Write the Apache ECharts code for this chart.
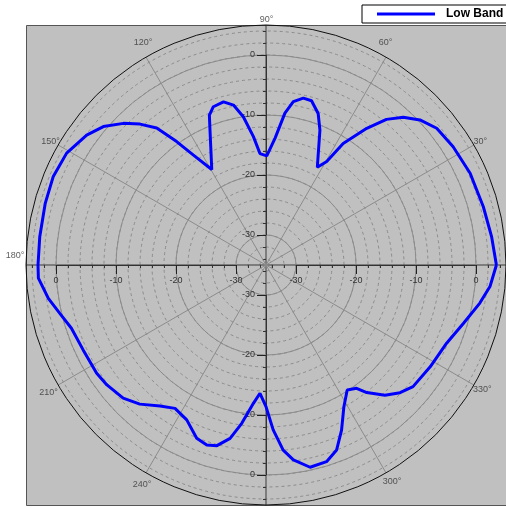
<!DOCTYPE html>
<html>
<head>
<meta charset="utf-8">
<style>
  html, body { margin: 0; padding: 0; background: #fff; }
  #chart { width: 506px; height: 508px; }
</style>
<script src="https://cdn.jsdelivr.net/npm/echarts@6/dist/echarts.min.js"></script>
</head>
<body>
<div id="chart"></div>
<script>
// ---- data ----
const seriesName = 'Low Band';
const angleDeg = [0, 7.1, 15, 24.2, 32.3, 38.7, 43.3, 47.1, 50.4, 53.6, 57.6, 59.6, 62.3, 68.2, 71, 74.5, 77.4, 80.5, 82.9, 85.9,
  89.6, 93.1, 95.6, 98.7, 101.5, 104.6, 108.4, 110.7, 112.5, 119.6, 123.5, 125.9, 128.6, 131.8, 135.2, 139.6, 144.1, 150.7, 157.5, 164.4,
  172.9, 180, 183.3, 188.7, 193.2, 198, 204.9, 212.6, 217, 223, 227.8, 233.1, 237.6, 242.9, 248.2, 251.8, 254.8, 258.3, 261.3, 264.8,
  267.3, 270, 272.5, 275.3, 278, 282.3, 287.1, 290.9, 294.6, 298.8, 303, 306.3, 308.3, 312.4, 316.4, 320.4, 328.2, 336.6, 343.5, 349.9,
  354.5, 360];
const gainDb = [3.4, 2.9, 2.5, 2.3, 1.9, 1.45, 0.25, -1.4, -3.5, -6.7, -11, -15, -16.6, -10.8, -8.3, -6.6, -6.5, -7.4, -9.5, -13.8,
  -16.8, -16.4, -13.5, -10, -7.8, -6.9, -7.2, -8.3, -10.6, -16.7, -13.0, -9.6, -5.8, -3.5, -1.5, 0.6, 1.9, 3.1, 3.4, 3.2,
  3.0, 3.0, 3.0, 1.7, 0.3, -0.9, -1.4, -1.5, -1.8, -2.45, -3.7, -5.6, -6.7, -6, -3.9, -3.4, -3.8, -5.5, -8.3, -11.85,
  -13.6, -11.4, -7.5, -4.0, -2.2, -0.5, -0.7, -2, -4.75, -8.05, -10.15, -9.5, -7.9, -5.6, -4.15, -3.2, -2.8, -2.2, -0.7, 1.2,
  2.5, 3.4];
const angleTicks = [30, 60, 90, 120, 150, 180, 210, 240, 300, 330];
const radiusTicks = [-30, -20, -10, 0];
const radiusMin = -35, radiusMax = 5;

// ---- styling (label nudges in px, keyed by angle tick) ----
const angleLabelNudge = {
  30: [7, -3], 60: [0, -14], 90: [1, -5], 120: [-2.5, -14], 150: [-7, -2.5],
  180: [-10.5, -9], 210: [-9, 8], 240: [-3.5, 12], 300: [6.5, 9], 330: [9, 5]
};

const chart = echarts.init(document.getElementById('chart'), null, { renderer: 'canvas' });
const CENTER = [266, 265];
const R = 240;
const pxPerDb = R / (radiusMax - radiusMin);
const FONT = 'Liberation Sans, Arial, sans-serif';

const polar = [{ center: CENTER, radius: [0, R] }];
const angleAxis = [{
  polarIndex: 0, type: 'value', min: 0, max: 360, interval: 30, startAngle: 0, clockwise: false,
  axisLine: { show: true, lineStyle: { color: '#111', width: 1 } },
  axisTick: { show: false },
  axisLabel: { show: false },
  splitLine: { show: true, lineStyle: { color: ['#3a3a3a', '#8c8c8c', '#8c8c8c'], width: 1 } },
  z: 1
}];
const radiusAxis = [{
  polarIndex: 0, type: 'value', min: radiusMin, max: radiusMax,
  axisLine: { show: false }, axisTick: { show: false }, axisLabel: { show: false }, splitLine: { show: false }
}];

const majorLo = radiusTicks[0], majorHi = radiusTicks[radiusTicks.length - 1];
const minorLo = radiusMin + 1, minorHi = radiusMax - 1;
const dirs = [0, 90, 180, 270];
dirs.forEach(d => {
  const flip = (d === 0 || d === 270);
  let idx = polar.length;
  polar.push({ center: CENTER, radius: [(majorLo - radiusMin) * pxPerDb, (majorHi - radiusMin) * pxPerDb] });
  angleAxis.push({ polarIndex: idx, type: 'value', min: 0, max: 360, startAngle: d, clockwise: false, show: false });
  const lab = { show: true, fontSize: 9, color: '#333', fontFamily: FONT, showMinLabel: true, showMaxLabel: true,
    formatter: v => (radiusTicks.indexOf(v) >= 0 ? String(v) : '') };
  if (d === 0) { lab.margin = -11; lab.verticalAlign = 'top'; lab.align = 'center'; }
  else if (d === 180) { lab.margin = 11; }
  else if (d === 90) { lab.margin = 11; }
  else { lab.margin = -11; lab.align = 'right'; lab.verticalAlign = 'middle'; }
  radiusAxis.push({
    polarIndex: idx, type: 'value', min: majorLo, max: majorHi, interval: 10,
    axisLine: { show: true, lineStyle: { color: '#333', width: 1 } },
    axisTick: { show: true, length: flip ? -9 : 9, lineStyle: { color: '#222', width: 1 } },
    axisLabel: lab,
    splitLine: { show: d === 180, lineStyle: { color: '#8c8c8c', width: 1, type: 'solid' } },
    z: 2
  });
  idx = polar.length;
  polar.push({ center: CENTER, radius: [(minorLo - radiusMin) * pxPerDb, (minorHi - radiusMin) * pxPerDb] });
  angleAxis.push({ polarIndex: idx, type: 'value', min: 0, max: 360, startAngle: d, clockwise: false, show: false });
  radiusAxis.push({
    polarIndex: idx, type: 'value', min: minorLo, max: minorHi, interval: 2,
    axisLine: { show: false },
    axisTick: { show: true, length: flip ? -3 : 3, lineStyle: { color: '#333', width: 1 } },
    axisLabel: { show: false },
    splitLine: { show: d === 0, lineStyle: { color: '#8c8c8c', width: 1, type: [3, 3] } },
    z: 0
  });
});

const lineData = angleDeg.map((a, i) => [gainDb[i], a]);
const angleLabelData = angleTicks.map(a => ({
  value: [radiusMax, a],
  label: { position: angleLabelNudge[a] || [0, 0] }
}));

chart.setOption({
  backgroundColor: '#ffffff',
  animation: false,
  graphic: [{
    type: 'rect', silent: true, z: -100,
    shape: { x: 26.5, y: 25.5, width: 495, height: 480 },
    style: { fill: '#c0c0c0', stroke: '#555555', lineWidth: 1 }
  }],
  legend: {
    data: [seriesName], left: 362, top: 5, orient: 'horizontal',
    padding: [3, 30, 3, 15], backgroundColor: '#ffffff', borderColor: '#000', borderWidth: 1, borderRadius: 0,
    icon: 'rect', itemWidth: 58, itemHeight: 3, itemGap: 0,
    textStyle: { fontWeight: 'bold', fontSize: 12, color: '#000', fontFamily: FONT, padding: [0, 0, 0, 6] }
  },
  polar: polar,
  angleAxis: angleAxis,
  radiusAxis: radiusAxis,
  series: [{
    name: seriesName, type: 'line', coordinateSystem: 'polar', polarIndex: 0,
    data: lineData, symbol: 'none', smooth: false,
    lineStyle: { color: '#0000ff', width: 3 }, itemStyle: { color: '#0000ff' },
    z: 5
  }, {
    name: 'angleLabels', type: 'scatter', coordinateSystem: 'polar', polarIndex: 0,
    data: angleLabelData, symbol: 'circle', symbolSize: 1, silent: true, z: 4,
    itemStyle: { color: 'rgba(0,0,0,0)' },
    label: {
      show: true, align: 'center', verticalAlign: 'middle',
      fontSize: 9, color: '#333', fontFamily: FONT,
      formatter: p => p.value[1] + '°'
    },
    labelLayout: { hideOverlap: false }
  }]
});
</script>
</body>
</html>
